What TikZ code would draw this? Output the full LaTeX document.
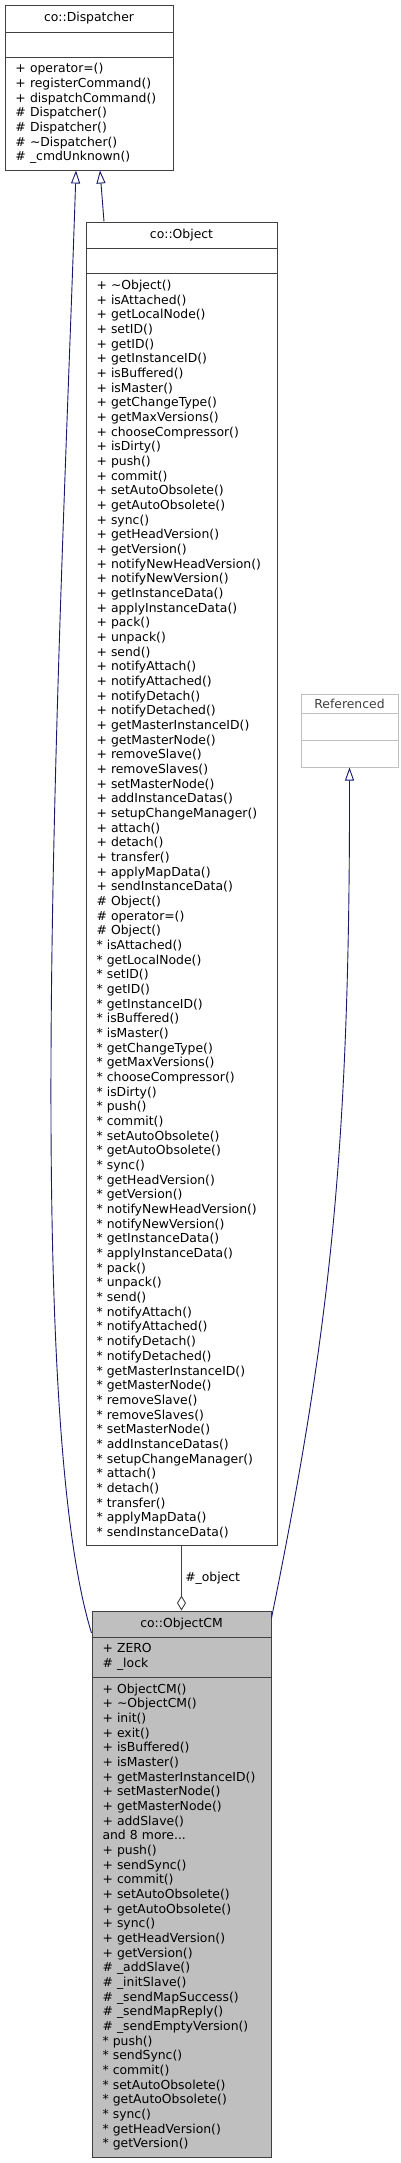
\documentclass[tikz,border=0pt]{standalone}
\usepackage{fontspec}
\setmainfont{DejaVu Sans}
\usetikzlibrary{arrows.meta}
\definecolor{edgeblue}{HTML}{191970}
\definecolor{boxline}{HTML}{404040}
\definecolor{cmfill}{HTML}{BFBFBF}
\definecolor{refline}{HTML}{BFBFBF}
\newcommand{\tld}{\textasciitilde{}}
\newcommand{\rd}{{*}}
\begin{document}
\begin{tikzpicture}[x=1pt, y=-1pt,
    font=\fontsize{12.4}{14.67}\selectfont,
    part/.style={draw=boxline, line width=1pt, fill=white, inner xsep=10.5pt, inner ysep=0pt},
    members/.style={part, align=left, text width=#1},
    inherit/.style={draw=edgeblue, line width=0.9pt, -{Triangle[length=13pt, width=9pt, fill=white]}},
    aggregate/.style={draw=boxline, line width=0.9pt, {Diamond[length=15pt, width=9pt, fill=white]}-},
  ]
  \useasboundingbox (0,0) rectangle (400,2163);
  % Paths, nodes and wires:
  \node[part, minimum width=168pt, minimum height=27pt] (dispT) at (89,18.5) {co::Dispatcher};
  \node[part, minimum width=168pt, minimum height=25pt] (dispA) at (89,44.5) {};
  \node[members=147pt, minimum height=113pt] (dispM) at (89,113.5) {+ operator=()\\+ registerCommand()\\+ dispatchCommand()\\\# Dispatcher()\\\# Dispatcher()\\\# \tld Dispatcher()\\\# \_cmdUnknown()};

  \node[part, minimum width=191pt, minimum height=26pt] (objT) at (181.5,235) {co::Object};
  \node[part, minimum width=191pt, minimum height=25pt] (objA) at (181.5,260.5) {};
  \node[members=170pt, minimum height=1272pt] (objM) at (181.5,909) {+ \tld Object()\\+ isAttached()\\+ getLocalNode()\\+ setID()\\+ getID()\\+ getInstanceID()\\+ isBuffered()\\+ isMaster()\\+ getChangeType()\\+ getMaxVersions()\\+ chooseCompressor()\\+ isDirty()\\+ push()\\+ commit()\\+ setAutoObsolete()\\+ getAutoObsolete()\\+ sync()\\+ getHeadVersion()\\+ getVersion()\\+ notifyNewHeadVersion()\\+ notifyNewVersion()\\+ getInstanceData()\\+ applyInstanceData()\\+ pack()\\+ unpack()\\+ send()\\+ notifyAttach()\\+ notifyAttached()\\+ notifyDetach()\\+ notifyDetached()\\+ getMasterInstanceID()\\+ getMasterNode()\\+ removeSlave()\\+ removeSlaves()\\+ setMasterNode()\\+ addInstanceDatas()\\+ setupChangeManager()\\+ attach()\\+ detach()\\+ transfer()\\+ applyMapData()\\+ sendInstanceData()\\\# Object()\\\# operator=()\\\# Object()\\\rd{} isAttached()\\\rd{} getLocalNode()\\\rd{} setID()\\\rd{} getID()\\\rd{} getInstanceID()\\\rd{} isBuffered()\\\rd{} isMaster()\\\rd{} getChangeType()\\\rd{} getMaxVersions()\\\rd{} chooseCompressor()\\\rd{} isDirty()\\\rd{} push()\\\rd{} commit()\\\rd{} setAutoObsolete()\\\rd{} getAutoObsolete()\\\rd{} sync()\\\rd{} getHeadVersion()\\\rd{} getVersion()\\\rd{} notifyNewHeadVersion()\\\rd{} notifyNewVersion()\\\rd{} getInstanceData()\\\rd{} applyInstanceData()\\\rd{} pack()\\\rd{} unpack()\\\rd{} send()\\\rd{} notifyAttach()\\\rd{} notifyAttached()\\\rd{} notifyDetach()\\\rd{} notifyDetached()\\\rd{} getMasterInstanceID()\\\rd{} getMasterNode()\\\rd{} removeSlave()\\\rd{} removeSlaves()\\\rd{} setMasterNode()\\\rd{} addInstanceDatas()\\\rd{} setupChangeManager()\\\rd{} attach()\\\rd{} detach()\\\rd{} transfer()\\\rd{} applyMapData()\\\rd{} sendInstanceData()};

  \node[part, draw=refline, minimum width=97pt, minimum height=19pt, text=boxline] (refT) at (349.5,703.5) {Referenced};
  \node[part, draw=refline, minimum width=97pt, minimum height=27pt] (refA) at (349.5,726.5) {};
  \node[part, draw=refline, minimum width=97pt, minimum height=27pt] (refM) at (349.5,753.5) {};

  \node[part, fill=cmfill, minimum width=179pt, minimum height=26pt] (cmT) at (181.5,1624) {co::ObjectCM};
  \node[members=158pt, fill=cmfill, minimum height=40pt] (cmA) at (181.5,1657) {+ ZERO\\\# \_lock};
  \node[members=158pt, fill=cmfill, minimum height=480pt] (cmM) at (181.5,1917) {+ ObjectCM()\\+ \tld ObjectCM()\\+ init()\\+ exit()\\+ isBuffered()\\+ isMaster()\\+ getMasterInstanceID()\\+ setMasterNode()\\+ getMasterNode()\\+ addSlave()\\and 8 more...\\+ push()\\+ sendSync()\\+ commit()\\+ setAutoObsolete()\\+ getAutoObsolete()\\+ sync()\\+ getHeadVersion()\\+ getVersion()\\\# \_addSlave()\\\# \_initSlave()\\\# \_sendMapSuccess()\\\# \_sendMapReply()\\\# \_sendEmptyVersion()\\\rd{} push()\\\rd{} sendSync()\\\rd{} commit()\\\rd{} setAutoObsolete()\\\rd{} getAutoObsolete()\\\rd{} sync()\\\rd{} getHeadVersion()\\\rd{} getVersion()};

  \draw[inherit] ([yshift=-9pt]cmT.west) .. controls (20,1400) and (62,600) .. ([xshift=-13pt]dispM.south);
  \draw[inherit] ([xshift=-77.5pt]objT.north) -- ([xshift=11pt]dispM.south);
  \draw[inherit] ([yshift=6pt]cmT.east) .. controls (330,1330) and (350,1150) .. (refM.south);
  \draw[aggregate] (cmT.north) -- node[right] (objlabel) {\#\_object} (objM.south);
\end{tikzpicture}
\end{document}
